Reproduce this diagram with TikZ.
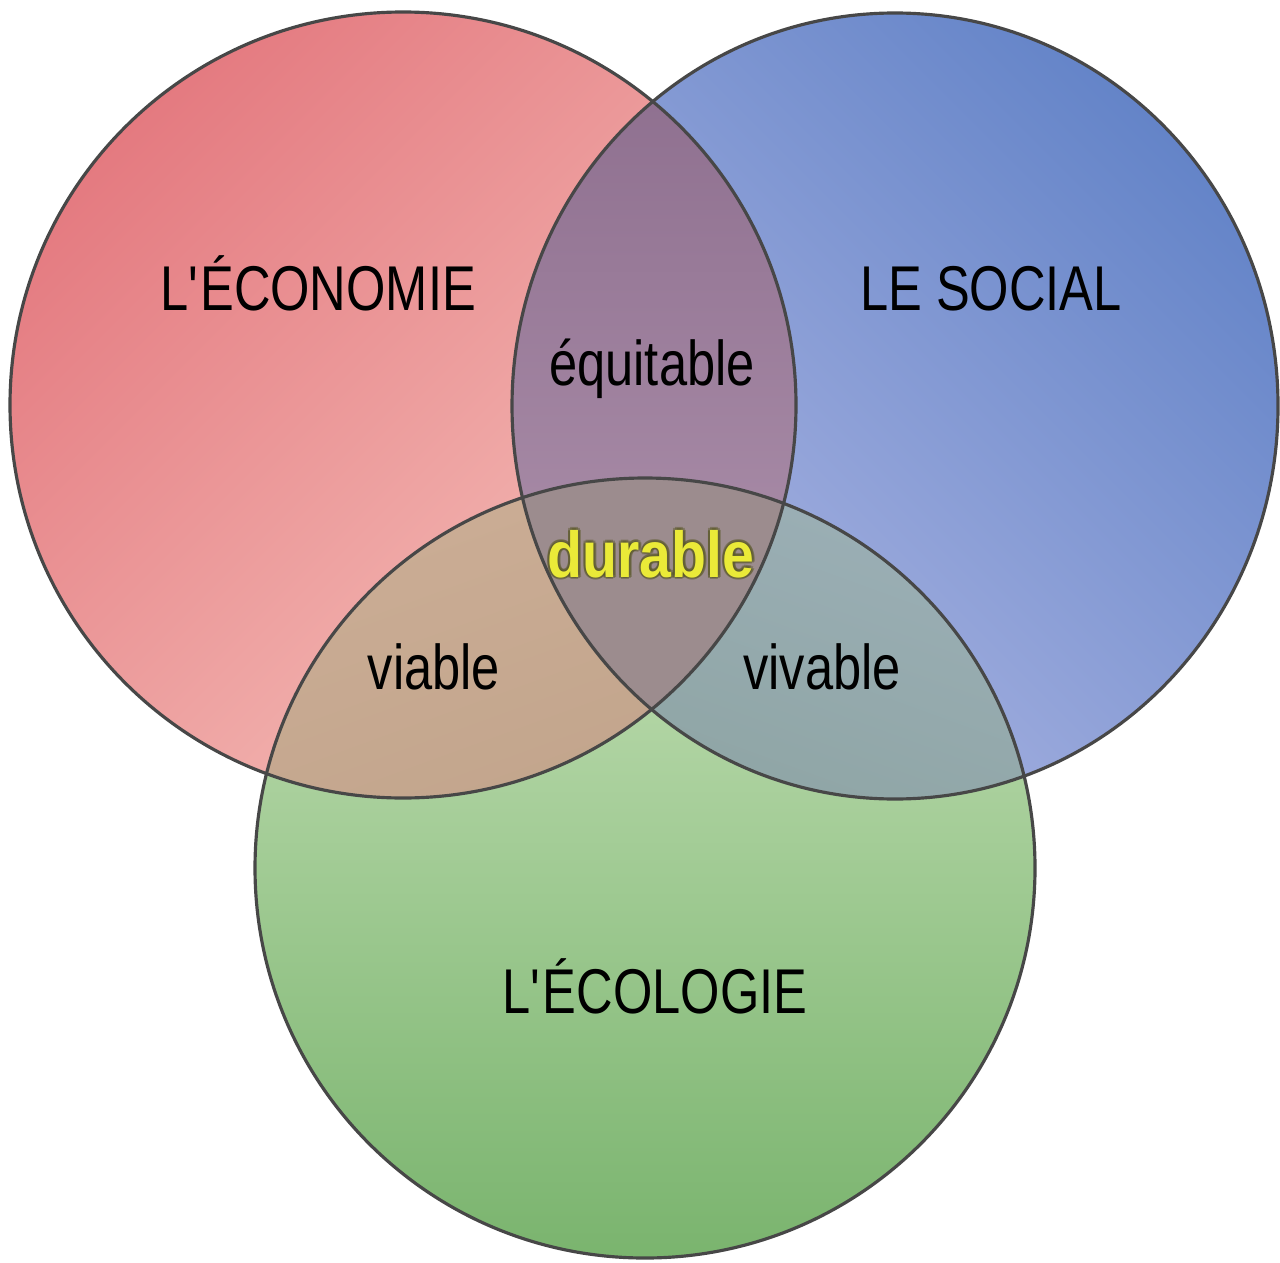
\documentclass[tikz,border=0pt]{standalone}
\usepackage{fontspec}
\usepackage{tikz}
\usetikzlibrary{positioning}

\newfontfamily\vennfont[FakeStretch=0.8]{Liberation Sans}
\newfontfamily\durfont[FakeStretch=0.88]{Liberation Sans}

\definecolor{ecoDark}{RGB}{228,122,128}
\definecolor{ecoLight}{RGB}{245,192,186}
\definecolor{socDark}{RGB}{100,132,200}
\definecolor{socLight}{RGB}{174,182,227}
\definecolor{ecolLight}{RGB}{200,226,186}
\definecolor{ecolDark}{RGB}{122,180,110}
\definecolor{equDark}{RGB}{139,108,140}
\definecolor{equLight}{RGB}{180,152,178}
\definecolor{viaA}{RGB}{202,172,148}
\definecolor{viaB}{RGB}{182,154,128}
\definecolor{vivA}{RGB}{154,174,180}
\definecolor{vivB}{RGB}{124,150,140}
\definecolor{durFill}{RGB}{156,140,142}
\definecolor{durText}{RGB}{234,234,56}
\definecolor{durHalo}{RGB}{90,88,40}

\def\ecoC{(4.03,-4.05) circle (3.93)}
\def\socC{(8.95,-4.06) ellipse (3.83 and 3.93)}
\def\ecolC{(6.45,-8.68) circle (3.90)}

\begin{document}
\begin{tikzpicture}[
  circtext/.style={font=\vennfont\fontsize{18}{20}\selectfont,
    anchor=base, inner sep=0pt, text=black},
  durtext/.style={circtext, font=\durfont\bfseries\fontsize{18.5}{20}\selectfont},
  rim/.style={draw=black!72, line width=0.9pt},
]

%%% Page frame (1280 x 1262 px, 1px = 0.01cm)
\clip (0,0) rectangle (12.8,-12.62);
\fill[white] (0,0) rectangle (12.8,-12.62);

%%% The three circles
\shade[top color=ecoDark, bottom color=ecoLight, shading angle=45] \ecoC;
\shade[top color=socDark, bottom color=socLight, shading angle=-45] \socC;
\shade[top color=ecolLight, bottom color=ecolDark] \ecolC;

%%% Overlaps
\begin{scope}
  \clip \ecoC;
  \shade[top color=equDark, bottom color=equLight] \socC;
  \shade[top color=viaA, bottom color=viaB, shading angle=20] \ecolC;
\end{scope}
\begin{scope}
  \clip \socC;
  \shade[top color=vivA, bottom color=vivB, shading angle=-20] \ecolC;
\end{scope}
\begin{scope}
  \clip \ecoC;
  \clip \socC;
  \fill[durFill] \ecolC;
\end{scope}

%%% Outlines
\draw[rim] \ecoC;
\draw[rim] \socC;
\draw[rim] \ecolC;

%%% Texts
\node[circtext] (eco) at (3.18,-3.10) {L\textquotesingle ÉCONOMIE};
\node[circtext] (soc) at (9.91,-3.10) {LE SOCIAL};
\node[circtext] (ecol) at (6.55,-10.13) {L\textquotesingle ÉCOLOGIE};
\node[circtext] (equ) at (6.52,-3.85) {équitable};
\node[circtext] (via) at (4.34,-6.89) {viable};
\node[circtext] (viv) at (8.22,-6.89) {vivable};

%%% durable, with its dark halo
\foreach \a in {0,45,...,315}
  \node[durtext, text=durHalo, opacity=0.45,
    xshift={0.7pt*cos(\a)}, yshift={0.7pt*sin(\a)}] (halo\a) at (6.51,-5.77) {durable};
\node[durtext, text=durText] (dur) at (6.51,-5.77) {durable};

\end{tikzpicture}
\end{document}
